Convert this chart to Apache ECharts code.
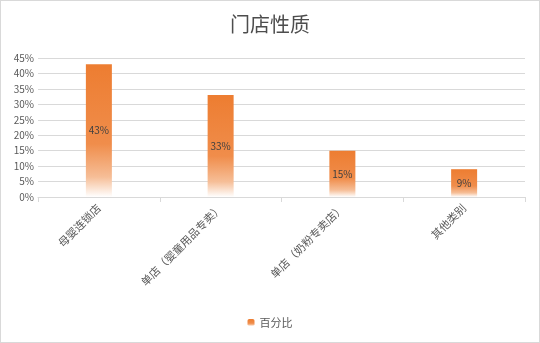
<!DOCTYPE html>
<html><head><meta charset="utf-8">
<script src="https://cdn.jsdelivr.net/npm/echarts@6/dist/echarts.min.js"></script>
<style>html,body{margin:0;padding:0;background:#fff}#c{width:538px;height:341px;border:1px solid #d9d9d9}</style>
</head><body><div id="c"></div>
<script>
const categories = ['母婴连锁店', '单店（婴童用品专卖）', '单店（奶粉专卖店）', '其他类别'];
const seriesName = '百分比';
const values = [43, 33, 15, 9];
const chart = echarts.init(document.getElementById('c'));
const font = '"Noto Sans CJK SC", "Microsoft YaHei", sans-serif';
chart.setOption({
  animation: false,
  title: { text: '门店性质', left: 'center', top: 8, textStyle: { fontFamily: font, fontSize: 20, fontWeight: 'normal', color: '#4d4d4d' } },
  grid: { left: 37, right: 14, top: 57, bottom: 145, containLabel: false },
  legend: { bottom: 9, left: 'center', itemWidth: 7, itemHeight: 7, textStyle: { fontFamily: font, fontSize: 11, color: '#595959' }, data: [seriesName] },
  xAxis: {
    type: 'category', data: categories,
    axisLine: { lineStyle: { color: '#d9d9d9' } },
    axisTick: { show: true, length: 5, lineStyle: { color: '#d9d9d9' } },
    axisLabel: { rotate: 45, fontFamily: font, fontSize: 11, color: '#595959', margin: 9, interval: 0 }
  },
  yAxis: {
    type: 'value', min: 0, max: 45, interval: 5,
    axisLine: { show: false }, axisTick: { show: false },
    axisLabel: { formatter: '{value}%', fontFamily: font, fontSize: 10, color: '#595959', margin: 4 },
    splitLine: { lineStyle: { color: '#d9d9d9' } }
  },
  series: [{
    name: seriesName, type: 'bar', data: values, barWidth: 26,
    itemStyle: { color: new echarts.graphic.LinearGradient(0, 0, 0, 1, [
      { offset: 0, color: '#ED7D31' }, { offset: 0.6, color: '#F08D4B' }, { offset: 0.85, color: '#F6BE97' }, { offset: 1, color: '#FFFFFF' }
    ]) },
    label: { show: true, position: 'inside', formatter: '{c}%', fontFamily: font, fontSize: 10, color: '#404040' }
  }]
});
</script></body></html>
